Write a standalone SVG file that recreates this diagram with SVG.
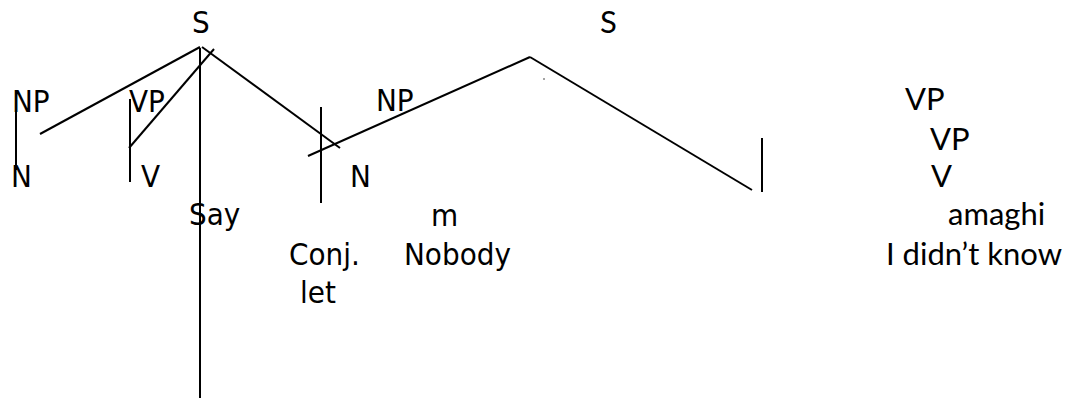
<svg xmlns="http://www.w3.org/2000/svg" width="1069" height="400" viewBox="0 0 1069 400">
<style>
.t{font-family:"DejaVu Sans Condensed","DejaVu Sans",sans-serif;font-stretch:condensed;font-size:31px;fill:#000}
.c{font-family:Lato,"Open Sans",sans-serif;font-size:31px;fill:#000}
.ln{stroke:#000;stroke-width:2;fill:none}
</style>
<rect width="1069" height="400" fill="#fff"/>
<g id="connectors" class="ln">
<line x1="200" y1="47" x2="40" y2="134"/>
<line x1="202" y1="47" x2="340" y2="148"/>
<line x1="200" y1="48" x2="200" y2="398"/>
<line x1="214" y1="49" x2="129" y2="148"/>
<line x1="130" y1="99" x2="130" y2="182"/>
<line x1="16" y1="110" x2="16" y2="170"/>
<line x1="321" y1="107" x2="321" y2="203"/>
<line x1="308" y1="156" x2="530" y2="57"/>
<line x1="530" y1="57" x2="752" y2="190"/>
<line x1="762" y1="138" x2="762" y2="192"/>
<circle cx="544" cy="79" r="0.7" fill="#000" stroke="none"/>
</g>
<g id="s1"><text class="t" x="192" y="33">S</text></g>
<g id="np1"><text class="t" x="12" y="112">NP</text></g>
<g id="vp1"><text class="t" x="129" y="112">VP</text></g>
<g id="np2"><text class="t" x="376" y="111">NP</text></g>
<g id="n1"><text class="t" x="11" y="187">N</text></g>
<g id="v1"><text class="t" x="141" y="187">V</text></g>
<g id="n2"><text class="t" x="350" y="187">N</text></g>
<g id="say"><text class="t" x="189" y="225">Say</text></g>
<g id="m"><text class="t" x="431" y="226">m</text></g>
<g id="conj"><text class="t" x="289" y="265">Conj.</text></g>
<g id="nobody"><text class="t" x="404" y="265">Nobody</text></g>
<g id="let"><text class="t" x="300" y="303">let</text></g>
<g id="s2"><text class="c" x="600" y="33">S</text></g>
<g id="vp2"><text class="c" x="905" y="110">VP</text></g>
<g id="vp3"><text class="c" x="930" y="150">VP</text></g>
<g id="v2"><text class="c" x="931" y="187">V</text></g>
<g id="amaghi"><text class="c" x="948" y="225">amaghi</text></g>
<g id="know"><text class="c" x="886" y="265">I didn’t know</text></g>
</svg>
